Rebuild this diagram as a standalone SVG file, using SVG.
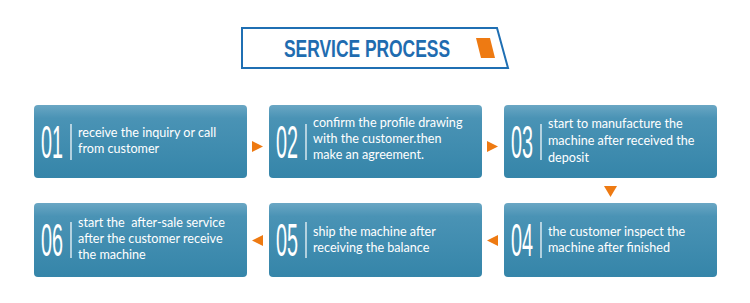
<svg xmlns="http://www.w3.org/2000/svg" width="750" height="303" viewBox="0 0 750 303">
<defs>
<linearGradient id="bg" x1="0" y1="0" x2="0" y2="1">
<stop offset="0" stop-color="#6aa7c4"/>
<stop offset="0.18" stop-color="#4a93b5"/>
<stop offset="1" stop-color="#3585a9"/>
</linearGradient>
<style>
.box{fill:url(#bg)}
.num{font-family:"Liberation Sans",sans-serif;font-size:46px;fill:#fff;font-weight:normal}
.div{stroke:#fff;stroke-width:1.2}
.txt{font-family:Lato,"Open Sans",sans-serif;font-size:12.6px;fill:#fff;white-space:pre}
.arr{fill:#ee7a12}
.title{font-family:"Liberation Sans",sans-serif;font-weight:bold;font-size:23px;fill:#1f6cb0}
</style>
</defs>
<rect width="750" height="303" fill="#fff"/>
<g id="title">
<polygon points="242,28 497,28 508,68 242,68" fill="#fff" stroke="#1f6fb3" stroke-width="2"/>
<polygon points="476,38 490,38 495,58 481,58" fill="#ee7a12"/>
<text class="title" x="284" y="57" textLength="166" lengthAdjust="spacingAndGlyphs">SERVICE PROCESS</text>
</g>
<g id="n1">
<rect class="box" x="34" y="105" width="213" height="73" rx="4"/>
<text class="num" transform="translate(41 158) scale(0.43 1)">01</text>
<line class="div" x1="71" y1="124" x2="71" y2="160"/>
<text class="txt" x="78" y="137">receive the inquiry or call</text>
<text class="txt" x="78" y="153">from customer</text>
</g>
<g id="n2">
<rect class="box" x="269" y="105" width="213" height="73" rx="4"/>
<text class="num" transform="translate(276 158) scale(0.43 1)">02</text>
<line class="div" x1="306" y1="124" x2="306" y2="160"/>
<text class="txt" x="313" y="127">confirm the profile drawing</text>
<text class="txt" x="313" y="143">with the customer.then</text>
<text class="txt" x="313" y="159">make an agreement.</text>
</g>
<g id="n3">
<rect class="box" x="504" y="105" width="213" height="73" rx="4"/>
<text class="num" transform="translate(511 158) scale(0.43 1)">03</text>
<line class="div" x1="541" y1="124" x2="541" y2="160"/>
<text class="txt" x="548" y="128">start to manufacture the</text>
<text class="txt" x="548" y="145">machine after received the</text>
<text class="txt" x="548" y="162">deposit</text>
</g>
<g id="n4">
<rect class="box" x="504" y="203" width="213" height="74" rx="4"/>
<text class="num" transform="translate(511 256) scale(0.43 1)">04</text>
<line class="div" x1="541" y1="222" x2="541" y2="258"/>
<text class="txt" x="548" y="236">the customer inspect the</text>
<text class="txt" x="548" y="252">machine after finished</text>
</g>
<g id="n5">
<rect class="box" x="269" y="203" width="213" height="74" rx="4"/>
<text class="num" transform="translate(276 256) scale(0.43 1)">05</text>
<line class="div" x1="306" y1="222" x2="306" y2="258"/>
<text class="txt" x="313" y="236">ship the machine after</text>
<text class="txt" x="313" y="252">receiving the balance</text>
</g>
<g id="n6">
<rect class="box" x="34" y="203" width="213" height="74" rx="4"/>
<text class="num" transform="translate(41 256) scale(0.43 1)">06</text>
<line class="div" x1="71" y1="222" x2="71" y2="258"/>
<text class="txt" x="78" y="227">start the  after-sale service</text>
<text class="txt" x="78" y="243">after the customer receive</text>
<text class="txt" x="78" y="259">the machine</text>
</g>
<g id="connectors">
<polygon class="arr" points="252,141 263,146.5 252,152"/>
<polygon class="arr" points="487,141 498,146.5 487,152"/>
<polygon class="arr" points="604,186 617,186 610.5,197"/>
<polygon class="arr" points="498,235 498,246 487,240.5"/>
<polygon class="arr" points="263,235 263,246 252,240.5"/>
</g>
</svg>
